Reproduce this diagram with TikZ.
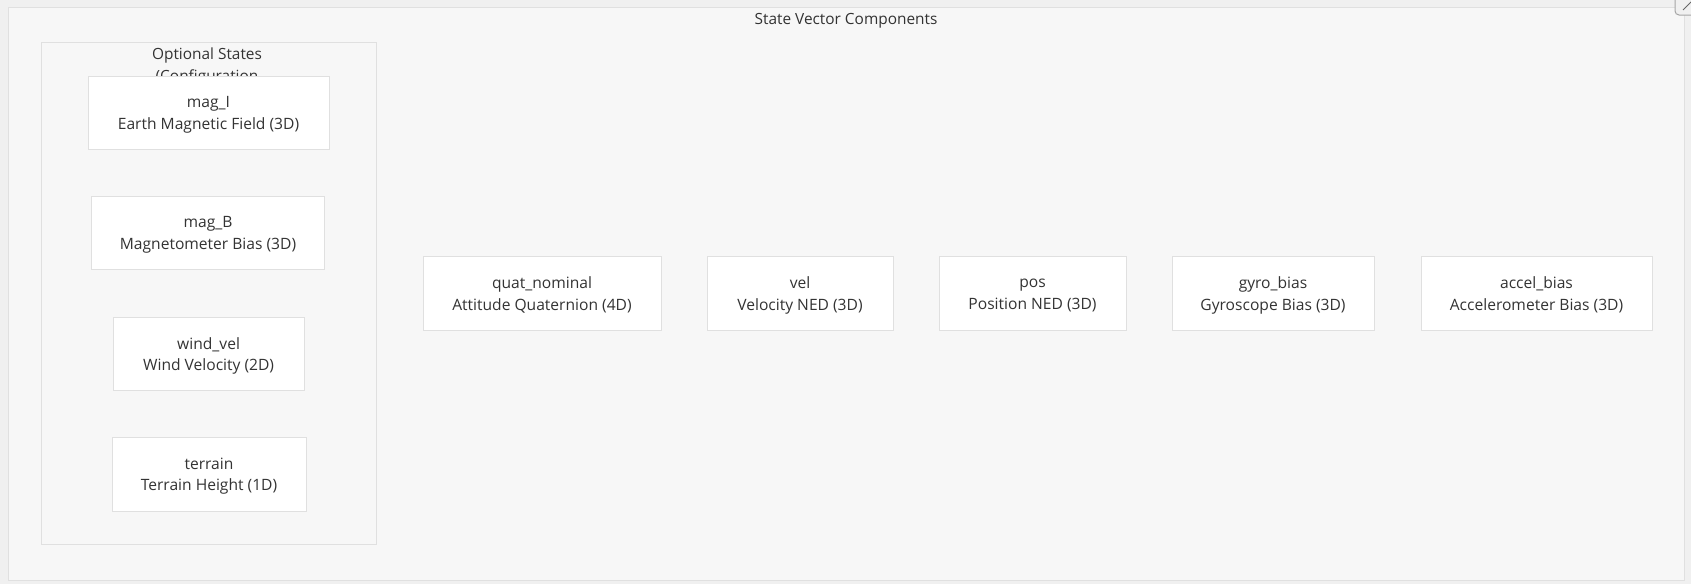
\documentclass[tikz,border=0pt]{standalone}
\usepackage{fontspec}
\setmainfont{Open Sans}
\definecolor{pagebg}{HTML}{F0F0F0}
\definecolor{clusterbg}{HTML}{F7F7F7}
\definecolor{edgegray}{HTML}{E0E0E0}
\definecolor{txt}{HTML}{333333}
\tikzset{
  statebox/.style={draw=edgegray, line width=1pt, fill=white, rectangle, inner sep=0pt},
  statetext/.style={inner sep=0pt, align=center, text=txt, font=\fontsize{15.6}{21.8}\selectfont},
  lbl/.style={text=txt, font=\fontsize{15.4}{16}\selectfont, inner sep=0pt}
}
\begin{document}
\begin{tikzpicture}[x=1pt,y=-1pt]
\useasboundingbox (0,0) rectangle (1691,584);
\fill[pagebg] (0,0) rectangle (1691,584);
% outer cluster
\draw[edgegray, fill=clusterbg, line width=1pt] (8,7) rectangle (1684,580);
\node[lbl] (title) at (846,20.5) {State Vector Components};
% optional states cluster
\draw[edgegray, fill=clusterbg, line width=1pt] (41,42) rectangle (376,544);
\node[lbl] (opt1) at (207,55.5) {Optional States};
\node[lbl] (opt2) at (207,77.5) {(Configuration};
% optional nodes
\node[statebox, minimum width=241pt, minimum height=73pt] (magI) at (208.5,112.5) {};
\node[statetext] (magIt) at ([yshift=-2.2pt]magI.center) {mag\_I\\Earth Magnetic Field (3D)};
\node[statebox, minimum width=233pt, minimum height=73pt] (magB) at (208,233) {};
\node[statetext] (magBt) at ([yshift=-2.2pt]magB.center) {mag\_B\\Magnetometer Bias (3D)};
\node[statebox, minimum width=191pt, minimum height=73pt] (wind) at (208.6,353.7) {};
\node[statetext] (windt) at ([yshift=-2.2pt]wind.center) {wind\_vel\\Wind Velocity (2D)};
\node[statebox, minimum width=194pt, minimum height=74pt] (terrain) at (209,474) {};
\node[statetext] (terraint) at ([yshift=-2.2pt]terrain.center) {terrain\\Terrain Height (1D)};
% main row
\node[statebox, minimum width=238pt, minimum height=74pt] (quat) at (542,293) {};
\node[statetext] (quatt) at ([yshift=-2.2pt]quat.center) {quat\_nominal\\Attitude Quaternion (4D)};
\node[statebox, minimum width=186pt, minimum height=74pt] (vel) at (800,293) {};
\node[statetext] (velt) at ([yshift=-2.2pt]vel.center) {vel\\Velocity NED (3D)};
\node[statebox, minimum width=187pt, minimum height=74pt] (pos) at (1032.5,293) {};
\node[statetext] (post) at ([yshift=-2.2pt]pos.center) {pos\\Position NED (3D)};
\node[statebox, minimum width=202pt, minimum height=74pt] (gyro) at (1273,293) {};
\node[statetext] (gyrot) at ([yshift=-2.2pt]gyro.center) {gyro\_bias\\Gyroscope Bias (3D)};
\node[statebox, minimum width=231pt, minimum height=74pt] (accel) at (1536.5,293) {};
\node[statetext] (accelt) at ([yshift=-2.2pt]accel.center) {accel\_bias\\Accelerometer Bias (3D)};
% corner button artifact
\draw[gray!70, line width=1pt, rounded corners=4pt, fill=pagebg] (1675,-10) rectangle (1700,15);
\draw[gray!80!black, line width=1pt] (1683,10) -- (1691,2);
\end{tikzpicture}
\end{document}
